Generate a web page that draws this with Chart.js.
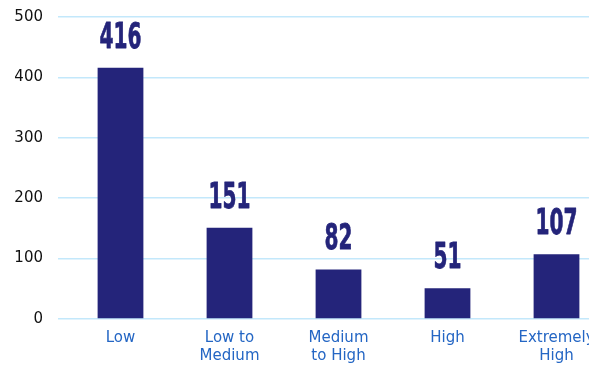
<!DOCTYPE html>
<html>
<head>
<meta charset="utf-8">
<script src="https://cdn.jsdelivr.net/npm/chart.js@4"></script>
<style>
  html, body { margin: 0; padding: 0; background: #fff; overflow: hidden; }
  #wrap { width: 640px; height: 372px; position: relative; margin-top: -7px; }
</style>
</head>
<body>
<div id="wrap"><canvas id="riskChart"></canvas></div>
<script>
// Chart data
const categories = [['Low'], ['Low to', 'Medium'], ['Medium', 'to High'], ['High'], ['Extremely', 'High']];
const counts = [416, 151, 82, 51, 107];
const yTicks = [0, 100, 200, 300, 400, 500];

const barColor = '#24247a';
const gridColor = '#c3e8fb';

// draws the big condensed value above each bar
const valueLabels = {
    id: 'valueLabels',
    afterDatasetsDraw(chart) {
        const ctx = chart.ctx;
        const meta = chart.getDatasetMeta(0);
        ctx.save();
        ctx.fillStyle = barColor;
        ctx.strokeStyle = barColor;
        ctx.lineWidth = 0.8;
        ctx.lineJoin = 'round';
        ctx.textAlign = 'center';
        ctx.textBaseline = 'alphabetic';
        ctx.font = 'bold 36px "DejaVu Sans", sans-serif';
        meta.data.forEach((bar, i) => {
            ctx.save();
            ctx.translate(bar.x, bar.y - 20);
            ctx.scale(0.56, 1);
            ctx.fillText(String(counts[i]), 0, 0);
            ctx.strokeText(String(counts[i]), 0, 0);
            ctx.restore();
        });
        ctx.restore();
    }
};

const ctx = document.getElementById('riskChart').getContext('2d');
new Chart(ctx, {
    type: 'bar',
    data: {
        labels: categories,
        datasets: [{
            data: counts,
            backgroundColor: barColor,
            barPercentage: 0.42,
            categoryPercentage: 1
        }]
    },
    options: {
        responsive: true,
        maintainAspectRatio: false,
        animation: false,
        layout: { padding: { top: 9, left: 0, right: 29, bottom: 0 } },
        plugins: {
            legend: { display: false },
            tooltip: { enabled: false }
        },
        scales: {
            y: {
                min: 0,
                max: 500,
                afterBuildTicks(axis) {
                    axis.ticks = yTicks.map(v => ({ value: v }));
                },
                afterFit(axis) { axis.width = 66; },
                border: { display: false },
                grid: { color: gridColor, lineWidth: 1.5, tickLength: 8 },
                ticks: {
                    color: '#111',
                    padding: 15,
                    font: { family: '"DejaVu Sans", sans-serif', size: 15 }
                }
            },
            x: {
                afterFit(axis) { axis.height = 46; },
                border: { display: false },
                grid: { display: false },
                ticks: {
                    color: '#2466c4',
                    padding: 2,
                    maxRotation: 0,
                    autoSkip: false,
                    font: { family: '"DejaVu Sans", sans-serif', size: 15, lineHeight: 1.2 }
                }
            }
        }
    },
    plugins: [valueLabels]
});
</script>
</body>
</html>
